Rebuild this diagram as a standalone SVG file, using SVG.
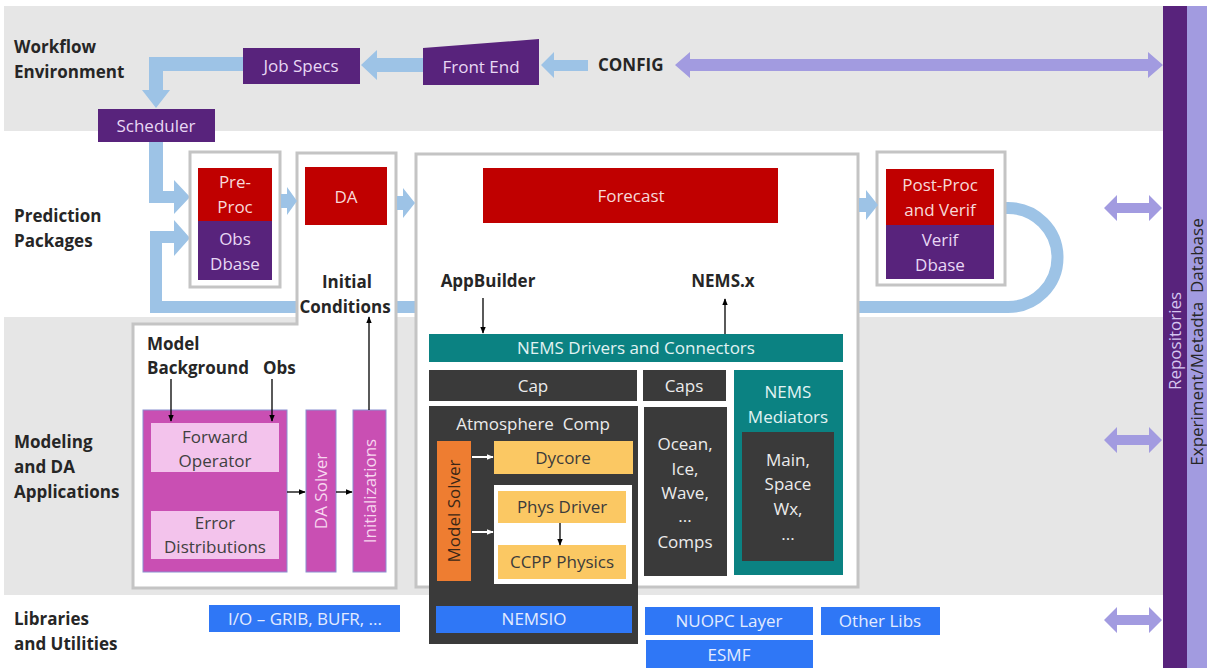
<svg xmlns="http://www.w3.org/2000/svg" width="1207" height="668" viewBox="0 0 1207 668">
<defs>
<style>
text{font-family:"Open Sans","Noto Sans","DejaVu Sans",sans-serif;font-size:17px}
.lbl{font-weight:bold;fill:#262626}
.c{text-anchor:middle}
.band{fill:#e6e6e6}
.pur{fill:#58237c}
.red{fill:#c00000}
.frame{fill:#fff;stroke:#c4c4c4;stroke-width:3}
.rt{fill:#f7d9d9}
.pt{fill:#e8d8f4}
.dk{fill:#3a3a3a}
.teal{fill:#0b8282}
.lt{fill:#ececec}
.tt{fill:#e2f3f3}
.mag{fill:#c94fb3;stroke:#8a8fd0;stroke-width:1}
.mt{fill:#f7d6ef}
.pink{fill:#f3c3ec}
.gt{fill:#404040}
.yel{fill:#fbc863}
.yt{fill:#3b3b3b}
.blue{fill:#2f77f6}
.bt{fill:#e3ebff}
.flow{fill:#9dc3e6}
.lav{fill:#a29be0}
.ln{stroke:#000;stroke-width:1.3;fill:none;marker-end:url(#ah)}
.wln{stroke:#fff;stroke-width:2;fill:none;marker-end:url(#wh)}
</style>
<marker id="ah" viewBox="0 0 10 10" refX="9" refY="5" markerWidth="7" markerHeight="7" markerUnits="userSpaceOnUse" orient="auto"><path d="M0,1 L10,5 L0,9 z" fill="#000"/></marker>
<marker id="wh" viewBox="0 0 10 10" refX="9" refY="5" markerWidth="7" markerHeight="7" markerUnits="userSpaceOnUse" orient="auto"><path d="M0,1 L10,5 L0,9 z" fill="#fff"/></marker>
</defs>

<g id="background">
<rect x="0" y="0" width="1207" height="668" fill="#fff"/>
<rect class="band" x="4" y="6" width="1159" height="125"/>
<rect class="band" x="4" y="317" width="1159" height="278"/>
</g>

<g id="row-labels">
<text class="lbl" x="14" y="53">Workflow</text>
<text class="lbl" x="14" y="78">Environment</text>
<text class="lbl" x="14" y="222">Prediction</text>
<text class="lbl" x="14" y="247">Packages</text>
<text class="lbl" x="14" y="448">Modeling</text>
<text class="lbl" x="14" y="473">and DA</text>
<text class="lbl" x="14" y="498">Applications</text>
<text class="lbl" x="14" y="625">Libraries</text>
<text class="lbl" x="14" y="650">and Utilities</text>
</g>

<g id="connectors-back">
<path d="M1000 208 H1008 A49.5 49.5 0 0 1 1008 307 H156 V237 H176" fill="none" stroke="#9dc3e6" stroke-width="12"/>
<polygon class="flow" points="174,220 190,238 174,256"/>
<polygon class="flow" points="149,142 163,142 163,191 174,191 174,180 190,197 174,214 174,203 149,203"/>
</g>

<g id="job-specs"><rect class="pur" x="243" y="48" width="117" height="36"/><text class="c pt" x="301" y="72">Job Specs</text></g>
<g id="front-end"><polygon class="pur" points="423,48 539,39 539,85 423,85"/><text class="c pt" x="481" y="73">Front End</text></g>
<g id="config"><text class="lbl" x="598" y="71">CONFIG</text></g>
<g id="scheduler"><rect class="pur" x="98" y="109" width="117" height="33"/><text class="c pt" x="156" y="132">Scheduler</text></g>

<g id="pre-proc">
<rect class="frame" x="190" y="152" width="90" height="135"/>
<rect class="red" x="198" y="168" width="74" height="53"/>
<rect class="pur" x="198" y="221" width="74" height="59"/>
<text class="c rt" x="235" y="188">Pre-</text>
<text class="c rt" x="235" y="213">Proc</text>
<text class="c pt" x="235" y="245">Obs</text>
<text class="c pt" x="235" y="270">Dbase</text>
</g>

<g id="da-modeling">
<path class="frame" d="M297 153 H396 V588 H133 V324 H297 Z"/>
<rect class="red" x="305" y="167" width="82" height="58"/>
<text class="c rt" x="346" y="203">DA</text>
<text class="c lbl" x="347" y="288">Initial</text>
<text class="c lbl" x="345" y="313">Conditions</text>
<text class="lbl" x="147" y="350">Model</text>
<text class="lbl" x="147" y="374">Background</text>
<text class="lbl" x="263" y="374">Obs</text>
</g>

<g id="forward-error">
<rect class="mag" x="143" y="410" width="144" height="162"/>
<rect class="pink" x="151" y="423" width="128" height="49"/>
<rect class="pink" x="151" y="511" width="128" height="48"/>
<text class="c gt" x="215" y="443">Forward</text>
<text class="c gt" x="215" y="467">Operator</text>
<text class="c gt" x="215" y="529">Error</text>
<text class="c gt" x="215" y="553">Distributions</text>
</g>
<g id="da-solver"><rect class="mag" x="306" y="410" width="30" height="162"/><text class="c mt" transform="translate(321,491) rotate(-90)" y="6">DA Solver</text></g>
<g id="initializations"><rect class="mag" x="353" y="410" width="33" height="162"/><text class="c mt" transform="translate(370,491) rotate(-90)" y="6">Initializations</text></g>

<g id="forecast-frame">
<rect class="frame" x="416" y="154" width="442" height="433"/>
<rect class="red" x="483" y="168" width="295" height="55"/>
<text class="c rt" x="631" y="202">Forecast</text>
<text class="c lbl" x="488" y="287">AppBuilder</text>
<text class="c lbl" x="723" y="287">NEMS.x</text>
</g>
<g id="nems-drivers"><rect class="teal" x="429" y="334" width="414" height="28"/><text class="c tt" x="636" y="354">NEMS Drivers and Connectors</text></g>
<g id="cap"><rect class="dk" x="429" y="370" width="208" height="31"/><text class="c lt" x="533" y="392">Cap</text></g>
<g id="caps"><rect class="dk" x="643" y="370" width="83" height="31"/><text class="c lt" x="684" y="392">Caps</text></g>
<g id="atmosphere">
<rect class="dk" x="429" y="406" width="209" height="238"/>
<text class="c lt" x="533" y="430" xml:space="preserve">Atmosphere  Comp</text>
</g>
<g id="model-solver"><rect x="437" y="441" width="34" height="140" fill="#ee7d31"/><text class="c" fill="#3a2616" transform="translate(454,511) rotate(-90)" y="6">Model Solver</text></g>
<g id="dycore"><rect class="yel" x="494" y="441" width="139" height="33"/><text class="c yt" x="563" y="464">Dycore</text></g>
<g id="physics">
<rect x="494" y="485" width="138" height="99" fill="#fff"/>
<rect class="yel" x="498" y="491" width="128" height="32"/>
<rect class="yel" x="498" y="545" width="128" height="34"/>
<text class="c yt" x="562" y="513">Phys Driver</text>
<text class="c yt" x="562" y="568">CCPP Physics</text>
</g>
<g id="nemsio"><rect class="blue" x="436" y="606" width="196" height="27"/><text class="c bt" x="534" y="625">NEMSIO</text></g>
<g id="other-comps">
<rect class="dk" x="644" y="407" width="83" height="169"/>
<text class="c lt" x="685" y="450">Ocean,</text>
<text class="c lt" x="685" y="475">Ice,</text>
<text class="c lt" x="685" y="499">Wave,</text>
<text class="c lt" x="685" y="522">...</text>
<text class="c lt" x="685" y="548">Comps</text>
</g>
<g id="mediators">
<rect class="teal" x="734" y="370" width="109" height="205"/>
<text class="c tt" x="788" y="398">NEMS</text>
<text class="c tt" x="788" y="423">Mediators</text>
<rect class="dk" x="742" y="432" width="92" height="129"/>
<text class="c lt" x="788" y="466">Main,</text>
<text class="c lt" x="788" y="490">Space</text>
<text class="c lt" x="788" y="515">Wx,</text>
<text class="c lt" x="788" y="540">...</text>
</g>

<g id="post-proc">
<rect class="frame" x="877" y="152" width="128" height="133"/>
<rect class="red" x="886" y="169" width="108" height="56"/>
<rect class="pur" x="886" y="225" width="108" height="54"/>
<text class="c rt" x="940" y="191">Post-Proc</text>
<text class="c rt" x="940" y="216">and Verif</text>
<text class="c pt" x="940" y="246">Verif</text>
<text class="c pt" x="940" y="271">Dbase</text>
</g>

<g id="libraries">
<rect class="blue" x="209" y="605" width="191" height="27"/><text class="c bt" x="305" y="625">I/O – GRIB, BUFR, ...</text>
<rect class="blue" x="645" y="607" width="168" height="28"/><text class="c bt" x="729" y="627">NUOPC Layer</text>
<rect class="blue" x="821" y="607" width="119" height="28"/><text class="c bt" x="880" y="627">Other Libs</text>
<rect class="blue" x="646" y="640" width="167" height="28"/><text class="c bt" x="729" y="661">ESMF</text>
</g>

<g id="repositories">
<rect class="pur" x="1163" y="6" width="24" height="662"/>
<rect class="lav" x="1187" y="6" width="20" height="662"/>
<text class="c" fill="#d6c6f0" font-size="16" transform="translate(1175,341) rotate(-90)" y="6">Repositories</text>
<text class="c" fill="#262626" transform="translate(1197,342) rotate(-90)" y="6" xml:space="preserve">Experiment/Metadta  Database</text>
</g>

<g id="connectors">
<polygon class="flow" points="588,60 554,60 554,52 541,65 554,78 554,71 588,71"/>
<polygon class="flow" points="423,58 377,58 377,50 361,65 377,80 377,72 423,72"/>
<polygon class="flow" points="243,57 149,57 149,90 142,90 156,108 170,90 163,90 163,71 243,71"/>
<polygon class="flow" points="281,194 287,194 287,187 297,201 287,215 287,208 281,208"/>
<polygon class="flow" points="397,196 403,196 403,188 415,203 403,218 403,210 397,210"/>
<polygon class="flow" points="859,198 866,198 866,190 878,205 866,220 866,212 859,212"/>
<polygon class="lav" points="675,65 690,52 690,59 1148,59 1148,52 1163,65 1148,78 1148,71 690,71 690,78"/>
<polygon class="lav" points="1104,208 1117,195 1117,203 1149,203 1149,195 1162,208 1149,221 1149,213 1117,213 1117,221"/>
<polygon class="lav" points="1104,440 1117,427 1117,435 1149,435 1149,427 1162,440 1149,453 1149,445 1117,445 1117,453"/>
<polygon class="lav" points="1104,620 1117,607 1117,615 1149,615 1149,607 1162,620 1149,633 1149,625 1117,625 1117,633"/>
<line class="ln" x1="483" y1="298" x2="483" y2="333"/>
<line class="ln" x1="725" y1="334" x2="725" y2="299"/>
<line class="ln" x1="171" y1="379" x2="171" y2="421"/>
<line class="ln" x1="272" y1="379" x2="272" y2="421"/>
<line class="ln" x1="287" y1="492" x2="305" y2="492"/>
<line class="ln" x1="336" y1="492" x2="352" y2="492"/>
<line class="ln" x1="369" y1="410" x2="369" y2="317"/>
<line class="ln" x1="560" y1="523" x2="560" y2="545"/>
<line class="wln" x1="472" y1="457" x2="493" y2="457"/>
<line class="wln" x1="472" y1="532" x2="493" y2="532"/>
</g>
</svg>
